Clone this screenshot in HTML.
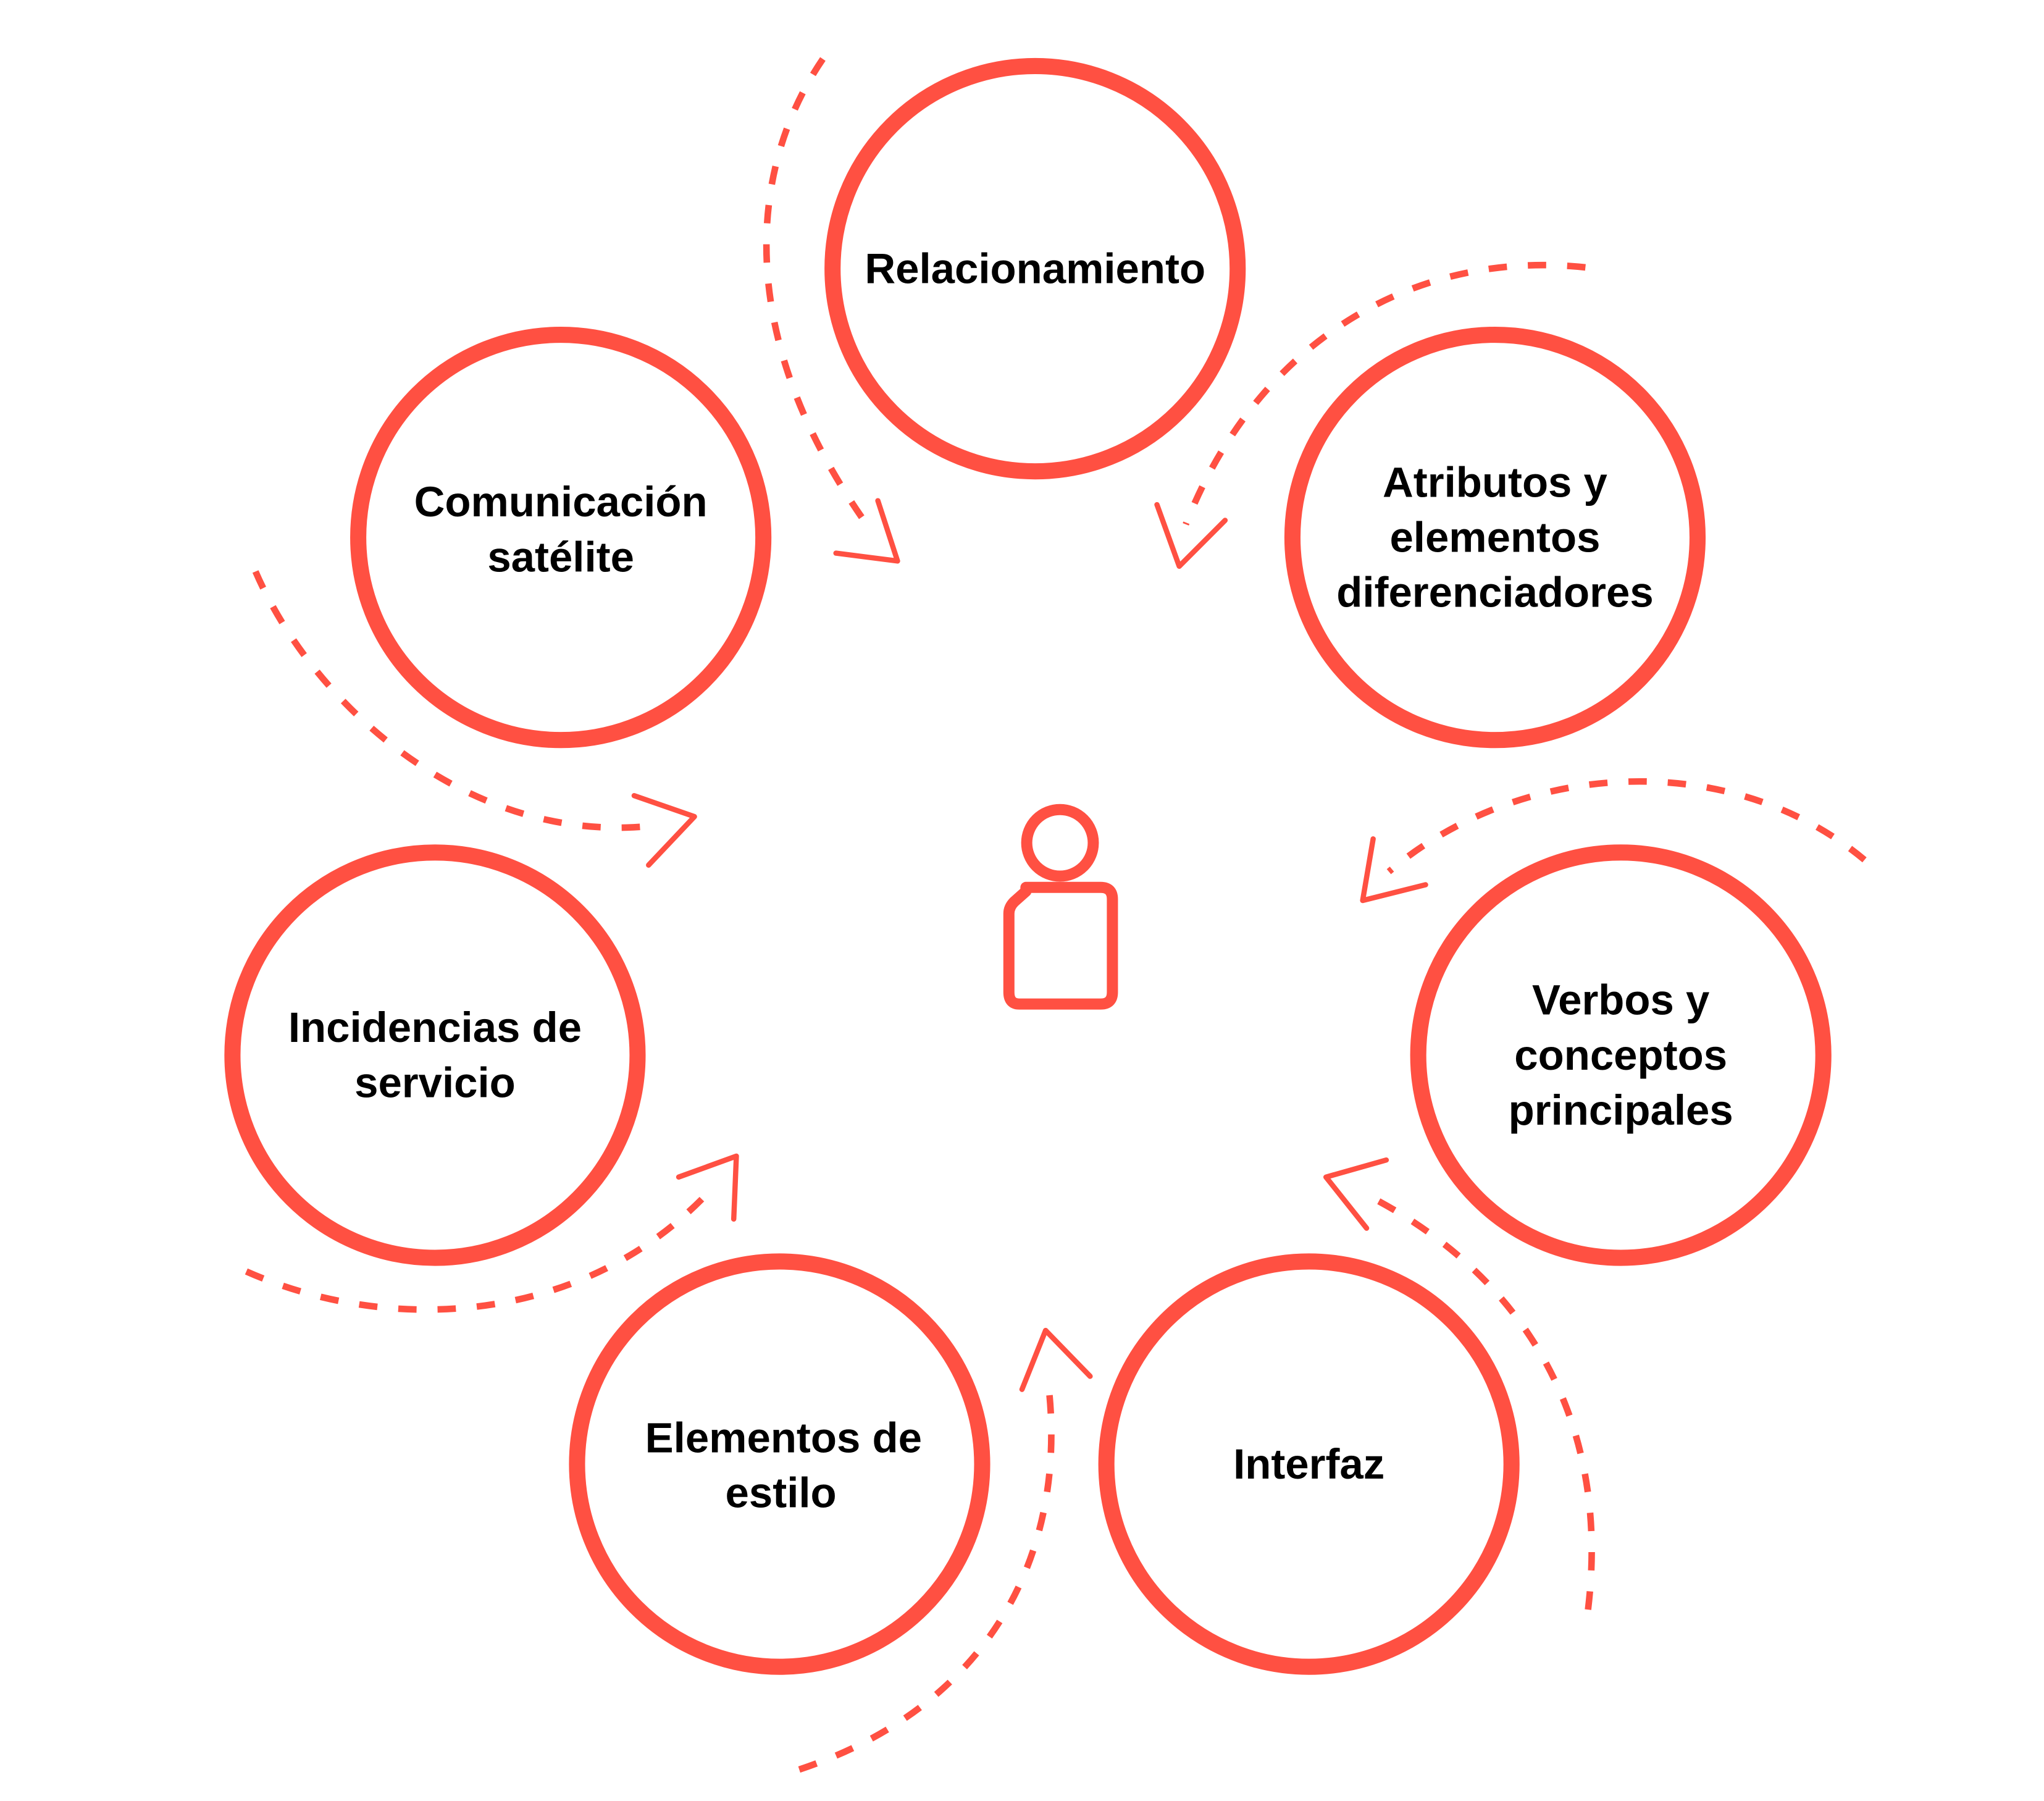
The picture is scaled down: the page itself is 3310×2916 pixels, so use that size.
<!DOCTYPE html>
<html><head><meta charset="utf-8"><style>
html,body{margin:0;padding:0;background:#fff;}
svg{display:block;}
text{font-family:"Liberation Sans",sans-serif;font-weight:bold;font-size:32.5px;fill:#000;text-anchor:middle;}
</style></head><body>
<svg width="3310" height="2916" viewBox="0 0 1560 1374" preserveAspectRatio="none" xmlns="http://www.w3.org/2000/svg">
<g fill="none" stroke="#FF5042" stroke-width="12.3">
<circle cx="790" cy="205" r="154.6"/>
<circle cx="1141" cy="410" r="154.6"/>
<circle cx="1237" cy="805" r="154.6"/>
<circle cx="999" cy="1117" r="154.6"/>
<circle cx="595" cy="1117" r="154.6"/>
<circle cx="332" cy="805" r="154.6"/>
<circle cx="428" cy="410" r="154.6"/>
</g>
<g fill="none" stroke="#FF5042" stroke-width="5" stroke-dasharray="14 16">
<path d="M628,45 C570,130 560,260 665,405"/>
<path d="M1210,204 C1080,190 960,260 905,400"/>
<path d="M1423,656 C1320,570 1160,580 1060,665"/>
<path d="M1212,1228 C1230,1080 1160,970 1040,910"/>
<path d="M610,1350 C760,1300 815,1180 800,1055"/>
<path d="M188,970 C300,1020 450,1010 545,905"/>
<path d="M195,436 C240,540 360,645 498,630"/>
</g>
<g fill="none" stroke="#FF5042" stroke-width="4" stroke-linecap="round" stroke-linejoin="round">
<path d="M638,422 L685,428 L670,382"/>
<path d="M883,385 L900,432 L935,397"/>
<path d="M1048,640 L1040,687 L1088,675"/>
<path d="M1058,885 L1012,898 L1043,937"/>
<path d="M780,1060 L798,1015 L832,1050"/>
<path d="M518,898 L562,882 L560,930"/>
<path d="M484,607 L530,623 L495,660"/>
</g>
<g fill="none" stroke="#FF5042" stroke-width="8.5" stroke-linejoin="round">
<circle cx="809" cy="643" r="25.4"/>
<path d="M783,677 L840,677 Q849,677 849,686 L849,757 Q849,766 840,766 L778,766 Q770,766 770,757 L770,697 Q770,692 774,688 L783,680 Z"/>
</g>
<text x="790" y="216">Relacionamiento</text>
<text x="1141" y="379">Atributos y</text>
<text x="1141" y="421">elementos</text>
<text x="1141" y="463">diferenciadores</text>
<text x="1237" y="774">Verbos y</text>
<text x="1237" y="816">conceptos</text>
<text x="1237" y="858">principales</text>
<text x="999" y="1128">Interfaz</text>
<text x="598" y="1108">Elementos de</text>
<text x="596" y="1150">estilo</text>
<text x="332" y="795">Incidencias de</text>
<text x="332" y="837">servicio</text>
<text x="428" y="394">Comunicación</text>
<text x="428" y="436">satélite</text>
</svg>
</body></html>
